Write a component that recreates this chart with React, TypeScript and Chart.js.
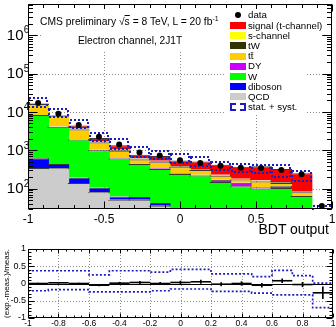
import React, { useEffect, useRef } from 'react';
import { Chart, registerables } from 'chart.js';
Chart.register(...registerables);

const FONT = "'Liberation Sans', Arial, Helvetica, sans-serif";

// ---- data ----
const binEdges = [-1, -0.8667, -0.7333, -0.6, -0.4667, -0.3333, -0.2, -0.0667, 0.0667, 0.2, 0.3333, 0.4667, 0.6, 0.7333, 0.8667, 1];
const dataCounts = [17000, 8900, 4550, 2240, 1420, 870, 730, 550, 465, 395, 350, 345, 307, 237, 35];
const qcd = [345, 337, 139, 79, 50, 50, 35, 16, 12, 8, 6, 4, 3, 2, 0.5];
const diboson = [275, 100, 51, 26, 11, 9, 6, 6, 8, 6, 5, 3, 3, 2, 0.5];
const wjets = [7680, 3660, 1710, 895, 549, 378, 284, 218, 200, 134, 104, 93, 97, 59, 5];
const dy = [50, 40, 30, 25, 20, 15, 12, 10, 8, 22, 27, 8, 12, 2, 0.5];
const ttbar = [7600, 3600, 1550, 560, 340, 120, 150, 110, 75, 45, 30, 45, 25, 14, 2];
const tw = [500, 320, 200, 100, 70, 35, 30, 20, 15, 8, 5, 6, 5, 2, 0.5];
const schan = [100, 60, 40, 25, 20, 13, 13, 10, 7, 5, 3, 4, 3, 1, 0.5];
const signal = [200, 200, 700, 390, 280, 140, 180, 150, 185, 192, 190, 217, 177, 168, 16];

const ratioValues = [0.0, 0.02, 0.0, -0.05, 0.01, 0.03, 0.0, 0.03, 0.05, -0.02, 0.0, -0.05, 0.08, -0.03, -0.27];
const ratioErrors = [0.01, 0.012, 0.015, 0.02, 0.027, 0.034, 0.037, 0.043, 0.046, 0.05, 0.053, 0.054, 0.057, 0.065, 0.17];
const bandUpper = [0.37, 0.37, 0.37, 0.25, 0.37, 0.37, 0.33, 0.41, 0.41, 0.28, 0.28, 0.2, 0.38, 0.23, 0.01];
const bandLower = [-0.21, -0.18, -0.18, -0.24, -0.24, -0.24, -0.21, -0.16, -0.16, -0.23, -0.23, -0.28, -0.33, -0.33, -0.7];

const yDecades = [100, 1000, 10000, 100000, 1000000];
const xTopTicks = [-1, -0.5, 0, 0.5, 1];
const xBottomTicks = [-1, -0.8, -0.6, -0.4, -0.2, 0, 0.2, 0.4, 0.6, 0.8, 1];
const yBottomTicks = [-1, -0.5, 0, 0.5, 1];
const Y_MIN = 29.4;
const Y_MAX = 6.5e6;

const components = [
  { label: 'QCD', values: qcd, color: '#cccccc' },
  { label: 'diboson', values: diboson, color: '#0000ff' },
  { label: 'W', values: wjets, color: '#00ff00' },
  { label: 'DY', values: dy, color: '#cc00ff' },
  { label: 't\u0074\u0304', values: ttbar, color: '#ffcc00' },
  { label: 'tW', values: tw, color: '#333300' },
  { label: 's-channel', values: schan, color: '#ffff00' },
  { label: 'signal (t-channel)', values: signal, color: '#ff0000' },
];

const BAND = '#1c1cc0';
const centers = binEdges.slice(0, -1).map((e, i) => (e + binEdges[i + 1]) / 2);

// ---- plugins ----
const topGrid = {
  id: 'topGrid',
  beforeDatasetsDraw(chart: any) {
    const { ctx, chartArea: a, scales: { x, y } } = chart;
    ctx.save();
    ctx.strokeStyle = '#8a8a8a';
    ctx.lineWidth = 1;
    ctx.setLineDash([1, 2]);
    [-0.5, 0, 0.5].forEach((v) => {
      const px = Math.round(x.getPixelForValue(v)) + 0.5;
      ctx.beginPath(); ctx.moveTo(px, a.top); ctx.lineTo(px, a.bottom); ctx.stroke();
    });
    yDecades.forEach((v) => {
      const py = Math.round(y.getPixelForValue(v)) + 0.5;
      ctx.beginPath(); ctx.moveTo(a.left, py); ctx.lineTo(a.right, py); ctx.stroke();
    });
    ctx.restore();
  },
};

const uncBoxes = {
  id: 'uncBoxes',
  afterDatasetDraw(chart: any, args: any) {
    if (args.index !== 1) return;
    const { ctx, chartArea: a, scales: { x, y } } = chart;
    ctx.save();
    ctx.beginPath(); ctx.rect(a.left, a.top, a.right - a.left, a.bottom - a.top + 1); ctx.clip();
    ctx.strokeStyle = BAND;
    ctx.lineWidth = 2;
    ctx.setLineDash([2, 2]);
    dataCounts.forEach((d, i) => {
      const x0 = Math.round(x.getPixelForValue(binEdges[i])) + 1;
      const x1 = Math.round(x.getPixelForValue(binEdges[i + 1])) - 1;
      const yt = Math.round(y.getPixelForValue(d * (1 + bandUpper[i])));
      const yb = Math.round(y.getPixelForValue(Math.max(d * (1 + bandLower[i]), 1)));
      ctx.strokeRect(x0, yt, x1 - x0, yb - yt);
    });
    ctx.restore();
  },
};

const topFrame = {
  id: 'topFrame',
  afterDraw(chart: any) {
    const { ctx, chartArea: a, scales: { x, y } } = chart;
    ctx.save();
    ctx.setLineDash([]);
    ctx.strokeStyle = '#000';
    ctx.lineWidth = 1;
    const L = Math.round(a.left) + 0.5, R = Math.round(a.right) - 0.5, T = Math.round(a.top) + 0.5, B = Math.round(a.bottom) - 0.5;
    ctx.strokeRect(L, T, R - L, B - T);
    ctx.beginPath();
    for (let e = 1; e <= 7; e++) {
      for (let k = 1; k <= 9; k++) {
        const v = k * Math.pow(10, e);
        if (v < Y_MIN || v > Y_MAX) continue;
        const py = Math.round(y.getPixelForValue(v)) + 0.5;
        const len = k === 1 ? 9 : 4.5;
        ctx.moveTo(L, py); ctx.lineTo(L + len, py);
        ctx.moveTo(R, py); ctx.lineTo(R - len, py);
      }
    }
    for (let i = -10; i <= 10; i++) {
      const px = Math.round(x.getPixelForValue(i / 10)) + 0.5;
      const len = i % 5 === 0 ? 7 : 3.5;
      ctx.moveTo(px, B); ctx.lineTo(px, B - len);
      ctx.moveTo(px, T); ctx.lineTo(px, T + len);
    }
    ctx.stroke();
    ctx.fillStyle = '#000';
    yDecades.forEach((v) => {
      const py = y.getPixelForValue(v);
      const e = String(Math.round(Math.log10(v)));
      ctx.font = `15px ${FONT}`;
      ctx.textAlign = 'right';
      ctx.textBaseline = 'middle';
      ctx.fillText('10', 23.5, py + 0.5);
      ctx.font = `10px ${FONT}`;
      ctx.textAlign = 'left';
      ctx.fillText(e, 23.8, py - 4.5);
    });
    ctx.restore();
  },
};

const botGrid = {
  id: 'botGrid',
  beforeDatasetsDraw(chart: any) {
    const { ctx, chartArea: a, scales: { x, y } } = chart;
    ctx.save();
    ctx.strokeStyle = '#8a8a8a';
    ctx.lineWidth = 1;
    ctx.setLineDash([1, 2]);
    xBottomTicks.slice(1, -1).forEach((v) => {
      const px = Math.round(x.getPixelForValue(v)) + 0.5;
      ctx.beginPath(); ctx.moveTo(px, a.top); ctx.lineTo(px, a.bottom); ctx.stroke();
    });
    [0.5, -0.5].forEach((v) => {
      const py = Math.round(y.getPixelForValue(v)) + 0.5;
      ctx.beginPath(); ctx.moveTo(a.left, py); ctx.lineTo(a.right, py); ctx.stroke();
    });
    ctx.setLineDash([]);
    ctx.strokeStyle = '#000';
    const p0 = Math.round(y.getPixelForValue(0)) + 0.5;
    ctx.beginPath(); ctx.moveTo(a.left, p0); ctx.lineTo(a.right, p0); ctx.stroke();
    ctx.restore();
  },
};

const botFrame = {
  id: 'botFrame',
  afterDraw(chart: any) {
    const { ctx, chartArea: a, scales: { x, y } } = chart;
    ctx.save();
    ctx.setLineDash([]);
    ctx.strokeStyle = '#000';
    ctx.lineWidth = 1;
    const L = Math.round(a.left) + 0.5, R = Math.round(a.right) - 0.5, T = Math.round(a.top) + 0.5, B = Math.round(a.bottom) - 0.5;
    ctx.strokeRect(L, T, R - L, B - T);
    ctx.beginPath();
    for (let i = -20; i <= 20; i++) {
      const px = Math.round(x.getPixelForValue(i / 20)) + 0.5;
      const len = i % 4 === 0 ? 4 : 2;
      ctx.moveTo(px, B); ctx.lineTo(px, B - len);
      ctx.moveTo(px, T); ctx.lineTo(px, T + len);
    }
    for (let i = -10; i <= 10; i++) {
      const py = Math.round(y.getPixelForValue(i / 10)) + 0.5;
      const len = i % 5 === 0 ? 6 : 3;
      ctx.moveTo(L, py); ctx.lineTo(L + len, py);
      ctx.moveTo(R, py); ctx.lineTo(R - len, py);
    }
    ctx.stroke();
    ctx.restore();
  },
};

function topConfig(): any {
  const cum = centers.map(() => 1);
  const bars = components.map((c) => {
    const pts = c.values.map((v, i) => {
      const lo = cum[i];
      const hi = lo + v;
      cum[i] = hi;
      return { x: centers[i], y: [lo, hi] };
    });
    return {
      type: 'bar',
      label: c.label,
      data: pts,
      backgroundColor: c.color,
      borderColor: '#3a3a3a',
      borderWidth: { top: 1, left: 0, right: 0, bottom: 0 },
      borderSkipped: false,
      grouped: false,
      barThickness: 22,
      inflateAmount: 0,
    };
  });
  const dataDs = {
    type: 'scatter',
    label: 'data',
    data: centers.map((c, i) => ({ x: c, y: dataCounts[i] })),
    pointRadius: 3,
    pointBackgroundColor: '#000',
    pointBorderWidth: 0,
    showLine: false,
  };
  return {
    type: 'bar',
    data: { datasets: [dataDs, ...bars] },
    options: {
      responsive: false,
      animation: false,
      events: [],
      layout: { padding: { top: 1, right: 3, left: 0, bottom: 0 } },
      plugins: { legend: { display: false }, tooltip: { enabled: false } },
      scales: {
        x: {
          type: 'linear', min: -1, max: 1, offset: false,
          grid: { display: false, drawTicks: false, tickLength: 0 }, border: { display: false },
          afterBuildTicks: (s: any) => { s.ticks = xTopTicks.map((v) => ({ value: v })); },
          ticks: { autoSkip: false, maxRotation: 0, padding: 3, color: '#000', font: { family: FONT, size: 12 }, callback: (v: any) => String(v) },
          afterFit: (s: any) => { s.height = 31; s.paddingLeft = 0; s.paddingRight = 0; },
        },
        y: {
          type: 'logarithmic', min: Y_MIN, max: Y_MAX,
          grid: { display: false, drawTicks: false, tickLength: 0 }, border: { display: false },
          afterBuildTicks: (s: any) => { s.ticks = yDecades.map((v) => ({ value: v })); },
          ticks: { display: false },
          afterFit: (s: any) => { s.width = 28; },
        },
      },
    },
    plugins: [topGrid, uncBoxes, topFrame],
  };
}

function botConfig(): any {
  const step = (vals: number[]) => binEdges.map((e, i) => ({ x: e, y: vals[Math.min(i, vals.length - 1)] }));
  const halfBin = (ctx: any) => {
    const s = ctx.chart.scales.x;
    return (s.getPixelForValue(binEdges[1]) - s.getPixelForValue(binEdges[0])) / 2;
  };
  return {
    type: 'bar',
    data: {
      datasets: [
        {
          type: 'scatter',
          data: centers.map((c, i) => ({ x: c, y: ratioValues[i] })),
          pointStyle: 'line',
          pointRadius: halfBin,
          pointBorderColor: '#000',
          pointBorderWidth: 1.6,
          showLine: false,
        },
        {
          type: 'bar',
          data: centers.map((c, i) => ({ x: c, y: [ratioValues[i] - ratioErrors[i], ratioValues[i] + ratioErrors[i]] })),
          backgroundColor: '#000',
          borderWidth: 0,
          barThickness: 1,
          grouped: false,
        },
        { type: 'line', data: step(bandUpper), stepped: true, borderColor: BAND, borderWidth: 1.7, borderDash: [2, 2], pointRadius: 0, fill: false },
        { type: 'line', data: step(bandLower), stepped: true, borderColor: BAND, borderWidth: 1.7, borderDash: [2, 2], pointRadius: 0, fill: false },
      ],
    },
    options: {
      responsive: false,
      animation: false,
      events: [],
      layout: { padding: { top: 9, right: 3, left: 0, bottom: 0 } },
      plugins: { legend: { display: false }, tooltip: { enabled: false } },
      scales: {
        x: {
          type: 'linear', min: -1, max: 1, offset: false,
          grid: { display: false, drawTicks: false, tickLength: 0 }, border: { display: false },
          afterBuildTicks: (s: any) => { s.ticks = xBottomTicks.map((v) => ({ value: v })); },
          ticks: { autoSkip: false, maxRotation: 0, padding: 1, color: '#000', font: { family: FONT, size: 8.5 }, callback: (v: any) => String(v) },
          afterFit: (s: any) => { s.height = 9; s.paddingLeft = 0; s.paddingRight = 0; },
        },
        y: {
          type: 'linear', min: -1, max: 1,
          grid: { display: false, drawTicks: false, tickLength: 0 }, border: { display: false },
          afterBuildTicks: (s: any) => { s.ticks = yBottomTicks.map((v) => ({ value: v })); },
          ticks: { autoSkip: false, padding: 2, color: '#000', font: { family: FONT, size: 9 }, callback: (v: any) => String(v) },
          title: { display: true, text: '(exp.-meas.)/meas.', color: '#000', font: { family: FONT, size: 8 }, padding: { top: 2, bottom: 0 } },
          afterFit: (s: any) => { s.width = 28; },
        },
      },
    },
    plugins: [botGrid, botFrame],
  };
}

const legendRows = [
  { label: 'data', kind: 'dot', color: '#000' },
  ...components.slice().reverse().map((c) => ({ label: c.label, kind: 'box', color: c.color })),
  { label: 'stat. + syst.', kind: 'band', color: BAND },
];

export default function App() {
  const topRef = useRef<HTMLCanvasElement>(null);
  const botRef = useRef<HTMLCanvasElement>(null);
  useEffect(() => {
    const c1 = new Chart(topRef.current as HTMLCanvasElement, topConfig());
    const c2 = new Chart(botRef.current as HTMLCanvasElement, botConfig());
    return () => { c1.destroy(); c2.destroy(); };
  }, []);

  const txt = (extra: any) => ({ position: 'absolute', whiteSpace: 'nowrap', color: '#000', fontFamily: FONT, ...extra });

  return (
    <div style={{ position: 'absolute', left: 0, top: 0, width: 336, height: 327, background: '#fff', overflow: 'hidden', fontFamily: FONT }}>
      <canvas ref={topRef} width={336} height={240} style={{ position: 'absolute', left: 0, top: 0 }} />
      <canvas ref={botRef} width={336} height={87} style={{ position: 'absolute', left: 0, top: 240 }} />
      <div style={{ position: 'absolute', left: 42, top: 9, width: 280, height: 42, background: '#fff' }} />
      <div style={{ position: 'absolute', left: 225, top: 9, width: 82, height: 104, background: '#fff' }} />
      <div style={txt({ left: 40, top: 15.5, fontSize: 10.3, lineHeight: '12px' })}>
        CMS preliminary √<span style={{ textDecoration: 'overline' }}>s</span> = 8 TeV, L = 20 fb
        <span style={{ fontSize: 7, position: 'relative', top: -4 }}>-1</span>
      </div>
      <div style={txt({ left: 78, top: 34.5, fontSize: 10.2, lineHeight: '12px' })}>Electron channel, 2J1T</div>
      {legendRows.map((r, i) => {
        const cy = 15.3 + 10.2 * i;
        return (
          <React.Fragment key={r.label}>
            {r.kind === 'dot' && (
              <div style={{ position: 'absolute', left: 235, top: cy - 3, width: 6, height: 6, borderRadius: 3, background: '#000' }} />
            )}
            {r.kind === 'box' && (
              <div style={{ position: 'absolute', left: 230, top: cy - 3.5, width: 16, height: 7, background: r.color }} />
            )}
            {r.kind === 'band' && (
              <div style={{ position: 'absolute', left: 230, top: cy - 4, width: 12, height: 4, border: `2px dashed ${BAND}`, background: '#fff' }} />
            )}
            <div style={txt({ left: 248, top: cy - 6, fontSize: 9.7, lineHeight: '12px' })}>{r.label}</div>
          </React.Fragment>
        );
      })}
      <div style={txt({ right: 7, top: 221, fontSize: 14, lineHeight: '16px' })}>BDT output</div>
    </div>
  );
}
